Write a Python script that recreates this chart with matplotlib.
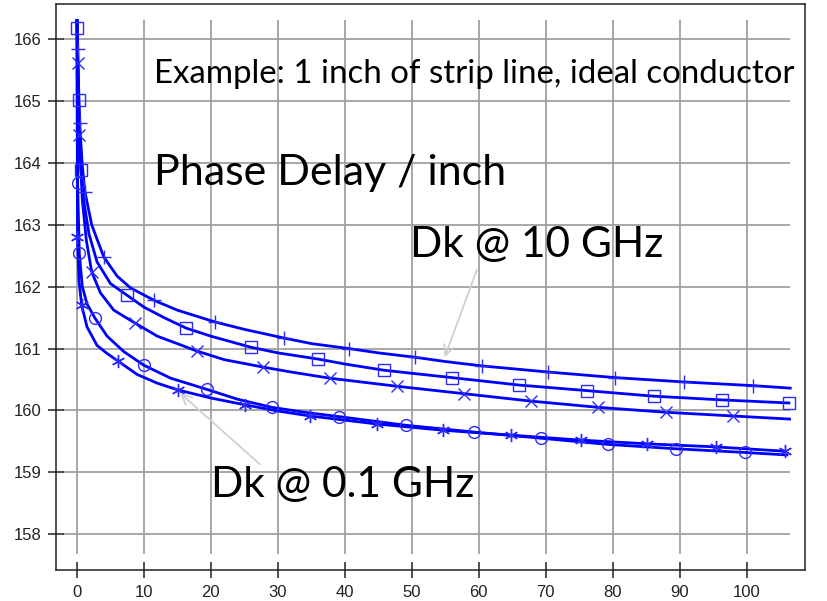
import matplotlib
matplotlib.use("Agg")
import matplotlib.pyplot as plt

# ---------------- data ----------------
x_ticks = [0, 10, 20, 30, 40, 50, 60, 70, 80, 90, 100]
y_ticks = [158, 159, 160, 161, 162, 163, 164, 165, 166]

plus_x = [0, 0.1, 0.4, 0.8, 1.2, 2.2, 4.0, 6.0, 8.0, 11.5, 15, 20.6, 25, 30.9, 35, 40.6, 45,
          50.4, 55, 60.4, 70.4, 80.4, 90.6, 101, 106.5]
plus_y = [166.3, 165.84, 164.64, 163.95, 163.53, 163.0, 162.48, 162.17, 161.98, 161.78, 161.62,
          161.43, 161.31, 161.17, 161.08, 161.0, 160.93, 160.86, 160.79, 160.72, 160.62, 160.53,
          160.46, 160.4, 160.36]
plus_marks = [1, 2, 4, 6, 9, 11, 13, 15, 17, 19, 20, 21, 22, 23]

square_x = [0, 0.05, 0.25, 0.6, 1.0, 1.8, 3.0, 5.0, 7.5, 10, 13, 16.3, 20, 26, 30, 36, 40, 45.8,
            50, 56, 66, 76.1, 86.1, 96.3, 106.3]
square_y = [166.3, 166.19, 165.01, 163.88, 163.4, 162.85, 162.4, 162.05, 161.86, 161.67, 161.5,
            161.33, 161.2, 161.02, 160.93, 160.83, 160.75, 160.65, 160.6, 160.53, 160.41, 160.32,
            160.23, 160.17, 160.12]
square_marks = [1, 2, 3, 8, 11, 13, 15, 17, 19, 20, 21, 22, 23, 24]

cross_x = [0, 0.1, 0.35, 0.8, 1.4, 2.2, 3.5, 5.5, 8.7, 12, 17.9, 22, 27.8, 32, 37.8, 47.8, 57.8,
           67.8, 77.8, 87.9, 97.9, 106.4]
cross_y = [166.3, 165.61, 164.45, 163.4, 162.75, 162.24, 161.9, 161.62, 161.41, 161.2, 160.96,
           160.82, 160.7, 160.62, 160.52, 160.39, 160.27, 160.15, 160.05, 159.97, 159.91, 159.86]
cross_marks = [1, 2, 5, 8, 10, 12, 14, 15, 16, 17, 18, 19, 20]

circle_x = [0, 0.1, 0.35, 0.8, 1.5, 2.7, 4.5, 7, 10, 14, 19.4, 24, 29.1, 34, 39.1, 49.1, 59.3,
            69.3, 79.3, 89.4, 99.7, 106]
circle_y = [166.3, 163.67, 162.54, 162.0, 161.72, 161.49, 161.2, 160.95, 160.73, 160.52, 160.34,
            160.18, 160.05, 159.97, 159.9, 159.76, 159.65, 159.55, 159.45, 159.38, 159.32, 159.28]
circle_marks = [1, 2, 5, 8, 10, 12, 14, 15, 16, 17, 18, 19, 20]

star_x = [0, 0.08, 0.3, 0.7, 1.5, 3, 4.5, 6.1, 9, 12, 15.1, 20, 25.1, 30, 34.8, 44.8, 54.6, 64.8,
          75.2, 85.1, 95.4, 105.7]
star_y = [166.3, 162.8, 162.1, 161.7, 161.35, 161.05, 160.92, 160.8, 160.58, 160.44, 160.33,
          160.2, 160.09, 159.99, 159.91, 159.78, 159.68, 159.6, 159.52, 159.46, 159.41, 159.34]
star_marks = [1, 3, 7, 10, 12, 14, 15, 16, 17, 18, 19, 20, 21]

# ---------------- figure ----------------
W, H = 827, 601
fig = plt.figure(figsize=(W / 100, H / 100), dpi=100)
ax = fig.add_axes([56 / W, 1 - 570 / H, (805 - 56) / W, (570 - 4) / H])

ax.set_xlim(-3.13, 108.7)
ax.set_ylim(157.42, 166.57)

grid_c = "#a0a0a0"
ax.hlines(y_ticks, -2.1, 106.4, colors=grid_c, lw=1.3, zorder=0)
ax.vlines(x_ticks, 157.68, 166.31, colors=grid_c, lw=1.3, zorder=0)

line_c = "#0000ff"
mark_c = "#2a2aff"
series = [
    (plus_x, plus_y, plus_marks, "+", 10),
    (square_x, square_y, square_marks, "s", 8.5),
    (cross_x, cross_y, cross_marks, "x", 8.5),
    (circle_x, circle_y, circle_marks, "o", 8.5),
    (star_x, star_y, star_marks, (6, 2, 0), 9.5),
]
for xs, ys, mk, m, ms in series:
    ax.plot(xs, ys, color=line_c, lw=2.0, zorder=3)
    ax.plot([xs[i] for i in mk], [ys[i] for i in mk], linestyle="none", marker=m,
            markersize=ms, markerfacecolor="none", markeredgecolor=mark_c,
            markeredgewidth=1.0, zorder=4)

for s in ax.spines.values():
    s.set_color("#222222")
    s.set_linewidth(1.1)

ax.set_xticks(x_ticks)
ax.set_yticks(y_ticks)
ax.tick_params(direction="inout", length=11, width=1.1, color="#222222", pad=5,
               labelsize=12, labelcolor="#222222")
for lab in ax.get_xticklabels() + ax.get_yticklabels():
    lab.set_family(["Liberation Sans Narrow", "Liberation Sans", "DejaVu Sans"])

tfont = ["Lato", "DejaVu Sans"]
ax.text(11.5, 165.29, "Example: 1 inch of strip line, ideal conductor", fontsize=23.8,
        family=tfont, va="baseline", ha="left", zorder=5)
ax.text(11.5, 163.64, "Phase Delay / inch", fontsize=31, family=tfont, va="baseline",
        ha="left", zorder=5)
ax.text(49.7, 162.48, "Dk @ 10 GHz", fontsize=30.5, family=tfont, va="baseline", ha="left",
        zorder=5)
ax.text(20.0, 158.60, "Dk @ 0.1 GHz", fontsize=30.5, family=tfont, va="baseline", ha="left",
        zorder=5)

arrow = dict(arrowstyle="->", color="#cfcfcf", lw=1.3, mutation_scale=18, shrinkA=0, shrinkB=0)
ax.annotate("", xy=(54.9, 160.86), xytext=(59.7, 162.27), arrowprops=arrow, zorder=5)
ax.annotate("", xy=(15.4, 160.28), xytext=(27.3, 159.13), arrowprops=arrow, zorder=5)

fig.savefig("out.png", dpi=100)
